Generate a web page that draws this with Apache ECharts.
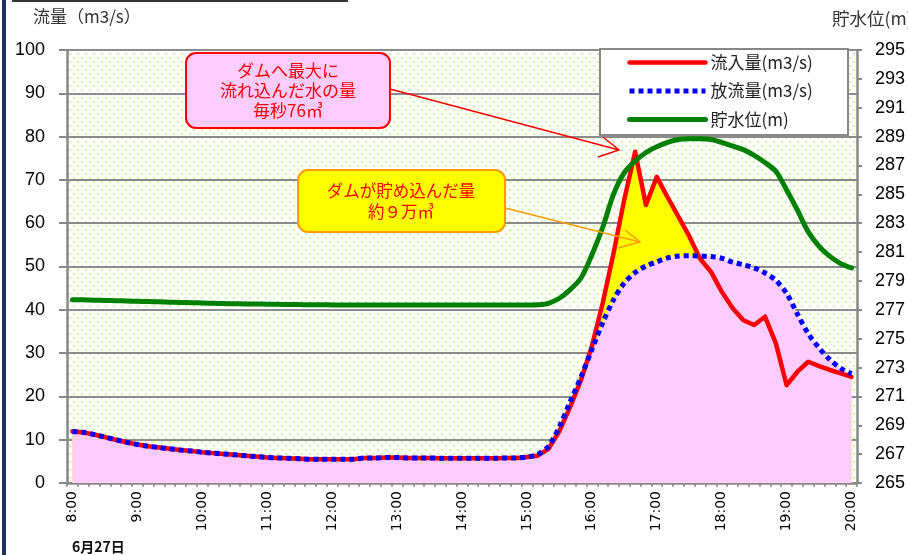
<!DOCTYPE html>
<html><head><meta charset="utf-8">
<script src="https://cdn.jsdelivr.net/npm/echarts@6/dist/echarts.min.js"></script>
<style>html,body{margin:0;padding:0;background:#fff}#c{width:908px;height:555px}</style>
</head><body><div id="c"></div>
<script>
const times = ['8:00','8:10','8:20','8:30','8:40','8:50','9:00','9:10','9:20','9:30','9:40','9:50',
'10:00','10:10','10:20','10:30','10:40','10:50','11:00','11:10','11:20','11:30','11:40','11:50',
'12:00','12:10','12:20','12:30','12:40','12:50','13:00','13:10','13:20','13:30','13:40','13:50',
'14:00','14:10','14:20','14:30','14:40','14:50','15:00','15:10','15:20','15:30','15:40','15:50',
'16:00','16:10','16:20','16:30','16:40','16:50','17:00','17:10','17:20','17:30','17:40','17:50',
'18:00','18:10','18:20','18:30','18:40','18:50','19:00','19:10','19:20','19:30','19:40','19:50','20:00'];

const inflow = [11.9,11.7,11.2,10.6,10.0,9.4,8.9,8.5,8.2,7.9,7.6,7.4,
7.1,6.9,6.7,6.5,6.3,6.1,5.9,5.8,5.7,5.6,5.5,5.5,
5.5,5.5,5.5,5.8,5.8,5.9,5.9,5.8,5.8,5.8,5.7,5.7,
5.7,5.7,5.7,5.7,5.8,5.8,6.0,6.3,7.9,12.0,17.6,23.8,
31.6,41.5,53.0,65.5,76.5,64.2,70.7,66.0,61.5,57.0,51.8,48.8,
44.2,40.4,37.6,36.5,38.4,32.3,22.6,25.7,28.0,27.0,26.1,25.3,24.5];

const outflow = [11.9,11.7,11.2,10.6,10.0,9.4,8.9,8.5,8.2,7.9,7.6,7.4,
7.1,6.9,6.7,6.5,6.3,6.1,5.9,5.8,5.7,5.6,5.5,5.5,
5.5,5.5,5.5,5.8,5.8,5.9,5.9,5.8,5.8,5.8,5.7,5.7,
5.7,5.7,5.7,5.7,5.8,5.8,6.0,6.6,8.5,13.0,18.8,24.5,
30.8,37.0,42.3,46.2,48.6,50.1,51.1,52.0,52.4,52.5,52.4,52.3,
51.9,51.0,50.4,49.7,48.5,46.8,43.8,39.0,34.5,31.2,28.5,26.5,25.2];

const waterLevel = [277.70,277.69,277.67,277.65,277.63,277.61,277.59,277.57,277.55,277.53,277.51,277.49,
277.47,277.45,277.43,277.42,277.41,277.40,277.39,277.38,277.37,277.36,277.35,277.35,
277.34,277.33,277.33,277.33,277.33,277.33,277.33,277.33,277.33,277.33,277.33,277.33,
277.33,277.33,277.33,277.33,277.33,277.33,277.33,277.35,277.45,277.8,278.4,279.2,
280.8,282.7,285.0,286.5,287.3,287.9,288.3,288.6,288.8,288.85,288.85,288.8,
288.6,288.35,288.1,287.7,287.2,286.6,285.3,283.9,282.4,281.4,280.7,280.2,279.9];

const seriesNames = ['流入量(m3/s)','放流量(m3/s)','貯水位(m)'];

const pc = document.createElement('canvas'); pc.width = 8; pc.height = 8;
const g = pc.getContext('2d');
g.fillStyle = '#ffffff'; g.fillRect(0,0,8,8);
g.fillStyle = '#ccf5a0'; g.fillRect(1,1,2,2); g.fillRect(5,5,2,2);

const JP = '"Noto Sans CJK JP", sans-serif';
const chart = echarts.init(document.getElementById('c'), null, {renderer:'canvas'});
chart.setOption({
  animation: false,
  grid: {left:67, right:47.5, top:50, bottom:72, show:true, backgroundColor:{image:pc, repeat:'repeat'}, borderWidth:0},
  xAxis: {type:'category', data:times, boundaryGap:true,
    axisLine:{lineStyle:{color:'#888', width:2.5}},
    axisTick:{show:true, interval:0, length:4, lineStyle:{color:'#888', width:1.5}},
    axisLabel:{interval:5, rotate:90, fontSize:14, fontFamily:'DejaVu Sans', color:'#000', margin:8},
    splitLine:{show:false}},
  yAxis: [
    {type:'value', min:0, max:100, interval:10, position:'left',
     axisLine:{show:true, lineStyle:{color:'#888', width:2.5}},
     axisTick:{show:true, length:8, lineStyle:{color:'#888', width:2}},
     axisLabel:{fontSize:18, fontFamily:'Liberation Sans', color:'#000', margin:22},
     splitLine:{show:true, lineStyle:{color:'#8c8c8c', width:2}}},
    {type:'value', min:265, max:295, interval:2, position:'right',
     axisLine:{show:true, lineStyle:{color:'#888', width:2.5}},
     axisTick:{show:true, length:5, lineStyle:{color:'#888', width:2}},
     axisLabel:{fontSize:18, fontFamily:'Liberation Sans', color:'#000', margin:18},
     splitLine:{show:false}}
  ],
  legend: {data:seriesNames, left:627, top:54, orient:'vertical', itemWidth:76, itemHeight:14, itemGap:11.5, padding:0,
    itemStyle:{opacity:0, borderWidth:0},
    lineStyle:{width:'inherit', type:'inherit', cap:'inherit'},
    textStyle:{fontSize:17, fontFamily:JP, color:'#222'}},
  series: [
    {name:'_yellow', type:'line', data:inflow, symbol:'none', silent:true, z:1,
     lineStyle:{width:0, opacity:0}, areaStyle:{color:'#FFFF00', opacity:1}},
    {name:'_pink', type:'line', data:outflow, smooth:0.3, symbol:'none', silent:true, z:1,
     lineStyle:{width:0, opacity:0}, areaStyle:{color:'#FFCCFF', opacity:1}},
    {name:seriesNames[0], type:'line', data:inflow, symbol:'none', z:3,
     itemStyle:{color:'#FF0000'}, lineStyle:{color:'#FF0000', width:4.5, cap:'round', join:'round'}},
    {name:seriesNames[1], type:'line', data:outflow, smooth:0.3, symbol:'none', z:4,
     itemStyle:{color:'#0000FF'}, lineStyle:{color:'#0000FF', width:5, type:[5,4]}},
    {name:seriesNames[2], type:'line', yAxisIndex:1, data:waterLevel, smooth:0.3, symbol:'none', z:5,
     itemStyle:{color:'#008000'}, lineStyle:{color:'#008000', width:5, cap:'round', join:'round'}}
  ],
  graphic: [
    {type:'rect', z:1, shape:{x:2, y:0, width:4, height:555}, style:{fill:'#1f2f5f'}},
    {type:'rect', z:1, shape:{x:12, y:0, width:336, height:2}, style:{fill:'#333'}},
    {type:'text', z:1, x:33, y:17, style:{text:'流量（m3/s）', fontSize:17, fontFamily:JP, fill:'#333', verticalAlign:'middle'}},
    {type:'text', z:1, x:832, y:18, style:{text:'貯水位(m)', fontSize:17.5, fontFamily:JP, fill:'#333', verticalAlign:'middle'}},
    {type:'text', z:1, x:72, y:547, style:{text:'6月27日', fontSize:14, fontFamily:JP, fontWeight:'bold', fill:'#111', verticalAlign:'middle'}},
    {type:'rect', z:3, shape:{x:600, y:49, width:248, height:86}, style:{fill:'#fff', stroke:'#888', lineWidth:2}},
    {type:'polyline', z:10, shape:{points:[[390,89],[619,150]]}, style:{stroke:'#FF0000', lineWidth:1.5, fill:null}},
    {type:'polyline', z:10, shape:{points:[[603,137],[619,150],[598,157]]}, style:{stroke:'#FF0000', lineWidth:1.5, fill:null}},
    {type:'polyline', z:10, shape:{points:[[505,208],[640,242]]}, style:{stroke:'#FF9900', lineWidth:1.5, fill:null}},
    {type:'polyline', z:10, shape:{points:[[625,230],[640,242],[618,248]]}, style:{stroke:'#FF9900', lineWidth:1.5, fill:null}},
    {type:'rect', z:10, shape:{x:186, y:53, width:204, height:75, r:10}, style:{fill:'#FFCCFF', stroke:'#FF0000', lineWidth:2}},
    {type:'text', z:11, x:288, y:91, style:{text:'ダムへ最大に\n流れ込んだ水の量\n毎秒76㎥', fontSize:17, lineHeight:20, fontFamily:JP, fill:'#FF0000', align:'center', verticalAlign:'middle'}},
    {type:'rect', z:10, shape:{x:298, y:170, width:207, height:62, r:10}, style:{fill:'#FFFF00', stroke:'#FF9900', lineWidth:2}},
    {type:'text', z:11, x:401, y:201, style:{text:'ダムが貯め込んだ量\n約９万㎥', fontSize:16.5, lineHeight:21, fontFamily:JP, fill:'#FF0000', align:'center', verticalAlign:'middle'}}
  ]
});
</script>
</body></html>
